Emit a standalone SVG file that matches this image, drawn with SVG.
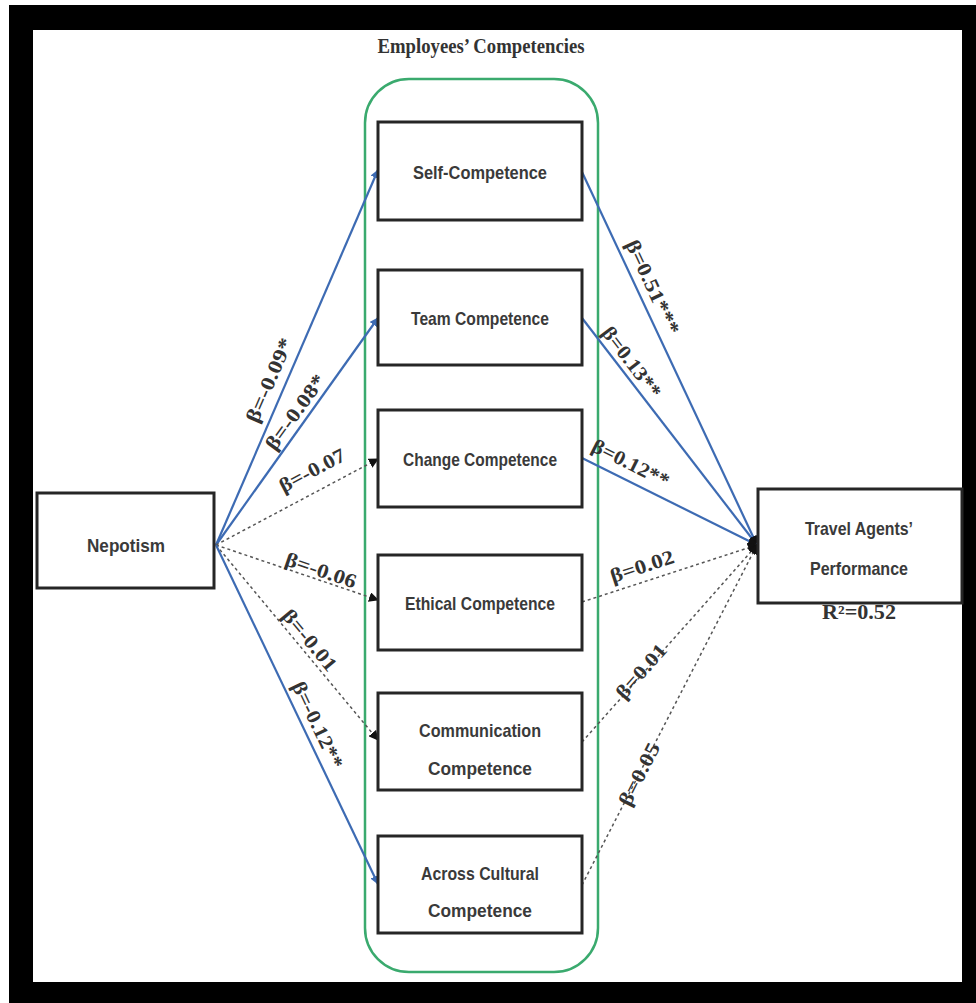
<svg xmlns="http://www.w3.org/2000/svg" width="976" height="1003" viewBox="0 0 976 1003">
  <style>
    .box { fill: #ffffff; stroke: #262626; stroke-width: 3; }
    .lbl { font-family: "Liberation Sans", Arial, sans-serif; font-weight: bold; font-size: 19px; fill: #3a3a3a; text-anchor: middle; }
    .coef { font-family: "Liberation Serif", "Times New Roman", serif; font-weight: bold; font-size: 20px; fill: #333333; text-anchor: middle; dominant-baseline: central; }
    .sig { fill: none; stroke: #3d6bb3; stroke-width: 2.2; }
    .ns { fill: none; stroke: #555555; stroke-width: 1.5; stroke-dasharray: 3 3; }
  </style>
  <defs>
    <marker id="headBlue" viewBox="0 0 10 10" refX="9" refY="5" markerWidth="9" markerHeight="9" markerUnits="userSpaceOnUse" orient="auto">
      <path d="M0,0 L10,5 L0,10 z" fill="#3d6bb3"/>
    </marker>
    <marker id="headBlack" viewBox="0 0 10 10" refX="9" refY="5" markerWidth="10" markerHeight="10" markerUnits="userSpaceOnUse" orient="auto">
      <path d="M0,0 L10,5 L0,10 z" fill="#111111"/>
    </marker>
  </defs>

  <!-- frame -->
  <rect x="0" y="0" width="976" height="1003" fill="#ffffff"/>
  <rect x="9" y="5" width="967" height="998" fill="#000000"/>
  <rect x="33" y="30" width="929" height="952" fill="#ffffff"/>

  <!-- competency group -->
  <g id="competencies-group">
    <rect x="365" y="79" width="233" height="893" rx="44" ry="44" fill="none" stroke="#3aaa6e" stroke-width="2.5"/>
    <text x="481" y="53" font-family="Liberation Serif, 'Times New Roman', serif" font-weight="bold" font-size="21" fill="#333333" text-anchor="middle" textLength="207" lengthAdjust="spacingAndGlyphs">Employees’ Competencies</text>
  </g>

  <!-- connectors -->
  <g id="connectors">
    <!-- nepotism to competencies -->
    <line class="sig" x1="216" y1="545" x2="378" y2="170" marker-end="url(#headBlue)"/>
    <line class="sig" x1="216" y1="545" x2="378" y2="318" marker-end="url(#headBlue)"/>
    <line class="ns" x1="216" y1="545" x2="378" y2="459" marker-end="url(#headBlack)"/>
    <line class="ns" x1="216" y1="545" x2="378" y2="600" marker-end="url(#headBlack)"/>
    <line class="ns" x1="216" y1="545" x2="378" y2="740" marker-end="url(#headBlack)"/>
    <line class="sig" x1="216" y1="545" x2="378" y2="884" marker-end="url(#headBlue)"/>
    <!-- competencies to performance -->
    <line class="sig" x1="582" y1="172" x2="757" y2="545" marker-end="url(#headBlack)"/>
    <line class="sig" x1="582" y1="318" x2="757" y2="545" marker-end="url(#headBlack)"/>
    <line class="sig" x1="582" y1="458" x2="757" y2="545" marker-end="url(#headBlack)"/>
    <line class="ns" x1="582" y1="602" x2="757" y2="545" marker-end="url(#headBlack)"/>
    <line class="ns" x1="582" y1="742" x2="757" y2="545" marker-end="url(#headBlack)"/>
    <line class="ns" x1="582" y1="885" x2="757" y2="545" marker-end="url(#headBlack)"/>

    <!-- path coefficients -->
    <text class="coef" transform="translate(269,380) rotate(-66.6)" textLength="90" lengthAdjust="spacingAndGlyphs">β=-0.09*</text>
    <text class="coef" transform="translate(295,412) rotate(-54.2)" textLength="88" lengthAdjust="spacingAndGlyphs">β=-0.08*</text>
    <text class="coef" transform="translate(312,470) rotate(-27.7)" textLength="72" lengthAdjust="spacingAndGlyphs">β=-0.07</text>
    <text class="coef" transform="translate(321,570) rotate(18.8)" textLength="74" lengthAdjust="spacingAndGlyphs">β=-0.06</text>
    <text class="coef" transform="translate(310,640) rotate(50.3)" textLength="74" lengthAdjust="spacingAndGlyphs">β=-0.01</text>
    <text class="coef" transform="translate(318,725) rotate(64.5)" textLength="94" lengthAdjust="spacingAndGlyphs">β=-0.12**</text>

    <text class="coef" transform="translate(653,287) rotate(65.1)" textLength="102" lengthAdjust="spacingAndGlyphs">β=0.51***</text>
    <text class="coef" transform="translate(632,362) rotate(52.7)" textLength="84" lengthAdjust="spacingAndGlyphs">β=0.13**</text>
    <text class="coef" transform="translate(631,463) rotate(26.7)" textLength="84" lengthAdjust="spacingAndGlyphs">β=0.12**</text>
    <text class="coef" transform="translate(642,566) rotate(-18.2)" textLength="66" lengthAdjust="spacingAndGlyphs">β=0.02</text>
    <text class="coef" transform="translate(641,671) rotate(-48.7)" textLength="66" lengthAdjust="spacingAndGlyphs">β=0.01</text>
    <text class="coef" transform="translate(639,774) rotate(-63)" textLength="68" lengthAdjust="spacingAndGlyphs">β=0.05</text>
  </g>

  <!-- nodes -->
  <g id="nepotism">
    <rect class="box" x="37" y="493" width="177" height="95"/>
    <text class="lbl" x="126" y="552" textLength="78" lengthAdjust="spacingAndGlyphs">Nepotism</text>
  </g>

  <g id="self-competence">
    <rect class="box" x="378" y="122" width="204" height="98"/>
    <text class="lbl" x="480" y="179" textLength="134" lengthAdjust="spacingAndGlyphs">Self-Competence</text>
  </g>

  <g id="team-competence">
    <rect class="box" x="378" y="270" width="204" height="95"/>
    <text class="lbl" x="480" y="325" textLength="138" lengthAdjust="spacingAndGlyphs">Team Competence</text>
  </g>

  <g id="change-competence">
    <rect class="box" x="378" y="410" width="204" height="97"/>
    <text class="lbl" x="480" y="466" textLength="154" lengthAdjust="spacingAndGlyphs">Change Competence</text>
  </g>

  <g id="ethical-competence">
    <rect class="box" x="378" y="555" width="204" height="95"/>
    <text class="lbl" x="480" y="610" textLength="150" lengthAdjust="spacingAndGlyphs">Ethical Competence</text>
  </g>

  <g id="communication-competence">
    <rect class="box" x="378" y="693" width="204" height="97"/>
    <text class="lbl" x="480" y="737" textLength="122" lengthAdjust="spacingAndGlyphs">Communication</text>
    <text class="lbl" x="480" y="775" textLength="104" lengthAdjust="spacingAndGlyphs">Competence</text>
  </g>

  <g id="across-cultural-competence">
    <rect class="box" x="378" y="836" width="204" height="97"/>
    <text class="lbl" x="480" y="880" textLength="118" lengthAdjust="spacingAndGlyphs">Across Cultural</text>
    <text class="lbl" x="480" y="917" textLength="104" lengthAdjust="spacingAndGlyphs">Competence</text>
  </g>

  <g id="travel-agents-performance">
    <rect class="box" x="758" y="489" width="204" height="114"/>
    <text class="lbl" x="859" y="535" textLength="108" lengthAdjust="spacingAndGlyphs">Travel Agents’</text>
    <text class="lbl" x="859" y="575" textLength="98" lengthAdjust="spacingAndGlyphs">Performance</text>
    <text x="859" y="619" font-family="Liberation Serif, 'Times New Roman', serif" font-weight="bold" font-size="20" fill="#333333" text-anchor="middle" textLength="74" lengthAdjust="spacingAndGlyphs">R²=0.52</text>
  </g>
</svg>
